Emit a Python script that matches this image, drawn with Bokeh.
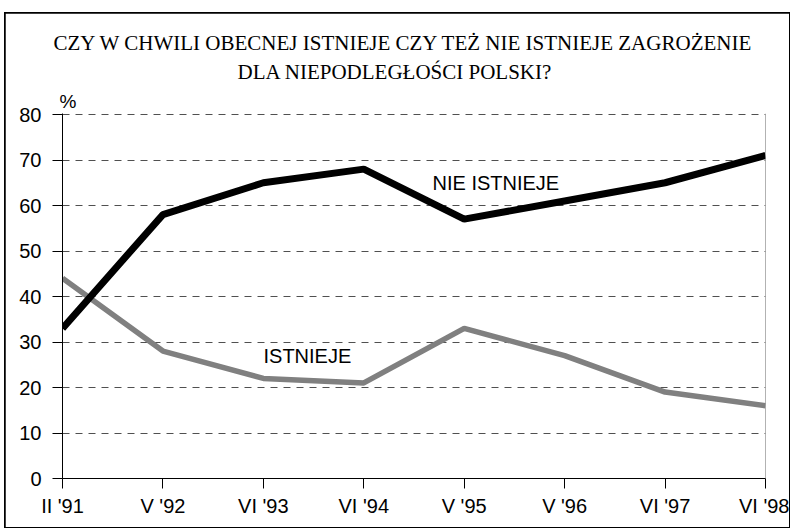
from bokeh.plotting import figure
from bokeh.models import FixedTicker, Label, Span, Range1d, Title
from bokeh.embed import file_html
from bokeh.resources import INLINE

# ---- data ----
periods = ["II '91", "V '92", "VI '93", "VI '94", "V '95", "V '96", "VI '97", "VI '98"]
nie_istnieje = [33, 58, 65, 68, 57, 61, 65, 71]
istnieje = [44, 28, 22, 21, 33, 27, 19, 16]
y_ticks = [0, 10, 20, 30, 40, 50, 60, 70, 80]
title_line1 = "CZY W CHWILI OBECNEJ ISTNIEJE CZY TEŻ NIE ISTNIEJE ZAGROŻENIE"
title_line2 = "DLA  NIEPODLEGŁOŚCI POLSKI?"

x = list(range(len(periods)))
n = len(periods) - 1

# page geometry
ML, MT, MR, MB = 5, 13, 1, 2          # figure margin inside the 790x529 page
W, H = 790 - ML - MR, 529 - MT - MB
FL, FR, FT, FB = 62, 765, 113, 478    # frame edges in page pixels
YMAX = 80.22

p = figure(width=W, height=H, output_backend="svg", toolbar_location=None,
           x_range=Range1d(0, n), y_range=Range1d(0, YMAX),
           min_border_left=FL - ML, min_border_right=(790 - MR) - FR,
           min_border_top=FT - MT, min_border_bottom=(529 - MB) - FB)
p.margin = (MT, MR, MB, ML)
p.styles = {"outline": "2px solid black", "outline-offset": "-1px"}
p.outline_line_color = None
p.background_fill_color = "white"
p.border_fill_color = "white"

# pixel -> data helpers (for placing text annotations only)
def dx(px):
    return (px - FL) / (FR - FL) * n

def dy(py):
    return (FB - py) / (FB - FT) * YMAX

# grid
p.xgrid.grid_line_color = None
p.ygrid.ticker = FixedTicker(ticks=y_ticks[1:])
p.ygrid.grid_line_color = "#505050"
p.ygrid.grid_line_dash = "7 6"
p.ygrid.grid_line_width = 1

# axes
p.xaxis.ticker = FixedTicker(ticks=x)
p.xaxis.major_label_overrides = {i: s for i, s in enumerate(periods)}
p.yaxis.ticker = FixedTicker(ticks=y_ticks)
for ax in (p.xaxis[0], p.yaxis[0]):
    ax.axis_line_color = "black"
    ax.axis_line_width = 1
    ax.major_tick_line_color = "black"
    ax.major_tick_in = 0
    ax.major_tick_out = 10
    ax.minor_tick_line_color = None
    ax.major_label_text_font = "Liberation Sans"
    ax.major_label_text_font_size = "20px"
    ax.major_label_text_color = "black"
p.yaxis.major_label_standoff = 11
p.xaxis.major_label_standoff = 6

# right frame line
p.add_layout(Span(location=n, dimension="height", line_color="#666666", line_width=1))

# lines
p.line(x, istnieje, line_color="#808080", line_width=5.5)
p.line(x, nie_istnieje, line_color="black", line_width=7)

# line labels
p.add_layout(Label(x=dx(432), y=dy(182), text="NIE ISTNIEJE", text_font="Liberation Sans",
                   text_font_size="20px", text_baseline="middle", text_color="black"))
p.add_layout(Label(x=dx(263), y=dy(355), text="ISTNIEJE", text_font="Liberation Sans",
                   text_font_size="20px", text_baseline="middle", text_color="black"))

# titles (first added "above" sits closest to the frame)
p.add_layout(Title(text="%", align="left", offset=-3, standoff=4,
                   text_font="Liberation Sans", text_font_size="19px", text_font_style="normal",
                   text_color="black"), "above")
p.add_layout(Title(text=title_line2, align="left", offset=237 - FL, standoff=5,
                   text_font="Liberation Serif", text_font_size="21px", text_font_style="normal",
                   text_color="black"), "above")
p.add_layout(Title(text=title_line1, align="left", offset=53 - FL, standoff=2,
                   text_font="Liberation Serif", text_font_size="21px", text_font_style="normal",
                   text_color="black"), "above")

open("out.html", "w").write(file_html(p, INLINE))
